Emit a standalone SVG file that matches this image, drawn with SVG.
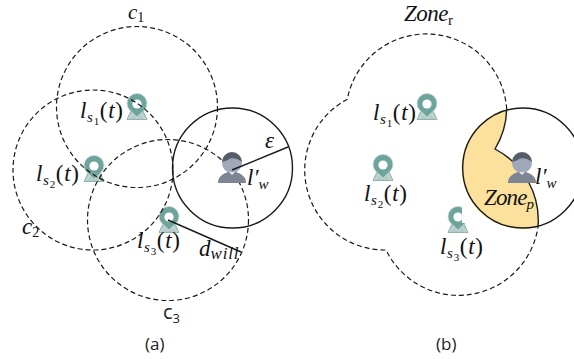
<svg xmlns="http://www.w3.org/2000/svg" width="574" height="359" viewBox="0 0 574 359">
<style>
.dash{fill:none;stroke:#1a1a1a;stroke-width:1.2;stroke-dasharray:5 3}
.solid{fill:none;stroke:#1a1a1a;stroke-width:1.4}
.m{font-family:"Liberation Serif","DejaVu Serif",serif;font-style:italic;font-size:23px;fill:#111}
.u{font-style:normal}
.s{font-size:15px}
.t{font-size:11px;font-style:normal}
.c{font-size:14px;font-style:normal}
.n{font-family:"Open Sans","Noto Sans",sans-serif;font-size:17px;fill:#222}
</style>
<defs>
<g id="pin">
<path d="M-10,12.5 L-6,4 L6,4 L10,12.5 Z" fill="#b5ccc9" stroke="#8fb3ae" stroke-width="1"/>
<path d="M-9,12 L-3,6 M9,12 L3,6" stroke="#fff" stroke-width=".6" opacity=".6"/>
<path d="M0,10 L-7.5,3 A10,10 0 1 1 7.5,3 Z" fill="#6fa49d" stroke="#c9dcd9" stroke-width=".8"/>
<circle r="4.6" cy="-3" fill="#fff"/>
</g>
<g id="person">
<path d="M-14,20 C-14,13 -9,11 -4,9 L4,9 C9,11 14,13 14,20 Z" fill="#7d8594"/>
<circle r="10" fill="#a0a8ba"/>
<path d="M-10,-1 A10,10 0 0 1 10,-1 C6,-5 -2,-6 -4,-3 C-6,-2 -8,-2 -10,-1 Z" fill="#565c69"/>
<path d="M-3,9 L0,12 L3,9 Z" fill="#e4e6ea"/>
</g>
</defs>

<g id="node-s1-a"><use href="#pin" x="137" y="107"/></g>
<g id="node-s2-a"><use href="#pin" x="94" y="169"/></g>
<g id="node-s3-a"><use href="#pin" x="169" y="220"/></g>

<g id="connectors-a">
<circle class="dash" cx="137" cy="107" r="80.5"/>
<circle class="dash" cx="93" cy="170" r="80"/>
<circle class="dash" cx="168" cy="220" r="80.5"/>
<circle class="solid" cx="232.5" cy="168" r="60"/>
</g>
<g id="node-worker-a"><use href="#person" x="232" y="163"/></g>
<g id="radii-a">
<line class="solid" x1="232" y1="170" x2="288" y2="147"/>
<line class="solid" x1="168" y1="220" x2="241" y2="252"/>
</g>

<g id="labels-a">
<text class="m" x="128" y="19" style="font-size:21px">c<tspan class="c" dy="3">1</tspan></text>
<text class="m" x="80" y="118" textLength="43">l<tspan class="s" dy="4">s</tspan><tspan class="t" dy="3">1</tspan><tspan class="u" dy="-7">(</tspan>t<tspan class="u">)</tspan></text>
<text class="m" x="36" y="181" textLength="43">l<tspan class="s" dy="4">s</tspan><tspan class="t" dy="3">2</tspan><tspan class="u" dy="-7">(</tspan>t<tspan class="u">)</tspan></text>
<text class="m" x="137" y="248" textLength="43">l<tspan class="s" dy="4">s</tspan><tspan class="t" dy="3">3</tspan><tspan class="u" dy="-7">(</tspan>t<tspan class="u">)</tspan></text>
<text class="m" x="22" y="234">c<tspan class="c" dy="3">2</tspan></text>
<text class="n" x="163" y="319" style="font-size:20px">c<tspan dy="4" style="font-size:13px">3</tspan></text>
<text class="m" x="265" y="148">ε</text>
<text class="m" x="247" y="185">l′<tspan class="s" dy="4">w</tspan></text>
<text class="m" x="199" y="256">d<tspan dy="3" style="font-size:17px;letter-spacing:.8px">will</tspan></text>
<text class="n" x="145" y="350">(a)</text>
</g>

<g id="node-s1-b"><use href="#pin" x="427" y="107"/></g>
<g id="node-s2-b"><use href="#pin" x="383" y="168"/></g>
<g id="node-s3-b"><use href="#pin" x="458" y="220"/><rect x="462" y="205" width="12" height="18" fill="#fff"/></g>

<g id="connectors-b">
<path id="zone-p" d="M506.7,109.3 A60,60 0 0 0 538,227 A80.5,80.5 0 0 0 495,149 A80.5,80.5 0 0 0 506.7,109.3 Z" fill="#fbe19c"/>
<circle class="solid" cx="522.7" cy="168" r="60"/>
<path class="solid" d="M506.7,109.3 A80.5,80.5 0 0 1 495,149 A80.5,80.5 0 0 1 538,227"/>
<path id="zone-r" class="dash" d="M506.7,109.3 A80.5,80.5 0 0 0 347.3,99.3 A80,80 0 0 0 386,250 A80.5,80.5 0 0 0 538,227"/>
</g>
<g id="node-worker-b"><use href="#person" x="522" y="163"/></g>

<g id="labels-b">
<text class="m" x="404" y="21" textLength="49">Zone<tspan class="s u" dy="4">r</tspan></text>
<text class="m" x="373" y="120" textLength="43">l<tspan class="s" dy="4">s</tspan><tspan class="t" dy="3">1</tspan><tspan class="u" dy="-7">(</tspan>t<tspan class="u">)</tspan></text>
<text class="m" x="364" y="201" textLength="43">l<tspan class="s" dy="4">s</tspan><tspan class="t" dy="3">2</tspan><tspan class="u" dy="-7">(</tspan>t<tspan class="u">)</tspan></text>
<text class="m" x="440" y="254" textLength="43">l<tspan class="s" dy="4">s</tspan><tspan class="t" dy="3">3</tspan><tspan class="u" dy="-7">(</tspan>t<tspan class="u">)</tspan></text>
<text class="m" x="535" y="184">l′<tspan class="s" dy="4">w</tspan></text>
<text class="m" x="484" y="205" textLength="50">Zone<tspan class="s" dy="4">p</tspan></text>
<text class="n" x="436" y="350">(b)</text>
</g>
</svg>
